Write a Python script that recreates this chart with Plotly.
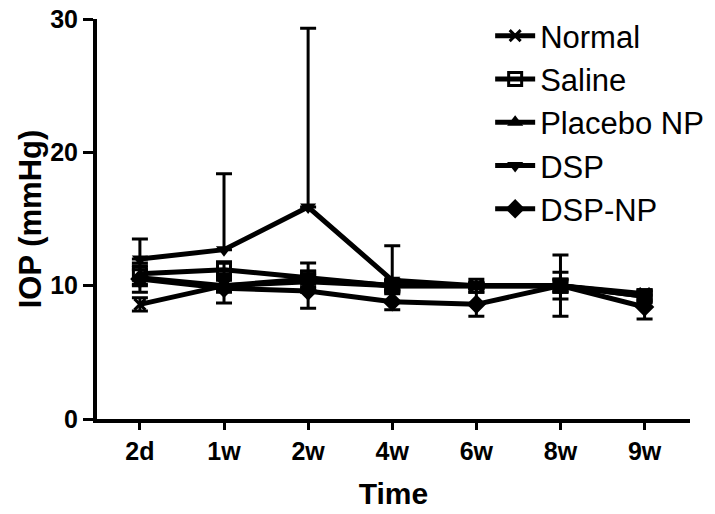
import plotly.graph_objects as go

times = ["2d", "1w", "2w", "4w", "6w", "8w", "9w"]
normal = [8.6, 10.0, 10.3, 10.0, 10.0, 10.0, 9.4]
normal_err = [0.5, 0.4, 0.5, 0.3, 0.2, 0.4, 0.3]
saline = [10.9, 11.2, 10.6, 10.0, 10.0, 10.0, 9.2]
saline_err = [0.8, 0.6, 1.1, 0.4, 0.2, 1.0, 0.4]
placebo = [10.6, 10.0, 10.5, 10.0, 10.0, 10.0, 9.2]
placebo_err = [0.6, 0.5, 0.6, 0.4, 0.2, 0.5, 0.3]
dsp = [12.0, 12.7, 15.9, 10.4, 10.0, 10.0, 9.3]
dsp_err_up = [1.5, 5.7, 13.4, 2.6, 0.0, 0.0, 0.0]
dspnp = [10.5, 9.8, 9.6, 8.8, 8.6, 10.0, 8.4]
dspnp_err = [1.0, 1.1, 1.3, 0.6, 0.9, 2.3, 0.9]

font = "Arial, Liberation Sans, sans-serif"
fig = go.Figure()

def add(name, y, symbol, err_up, err_dn, msize=11, mline=0):
    fig.add_trace(go.Scatter(
        x=times, y=y, name=name, mode="lines+markers",
        line=dict(color="black", width=5),
        marker=dict(symbol=symbol, size=msize, color="black",
                    line=dict(color="black", width=mline)),
        error_y=dict(type="data", symmetric=False, array=err_up, arrayminus=err_dn,
                     color="black", thickness=3, width=8),
    ))

add("Normal", normal, "x-thin", normal_err, normal_err, msize=11, mline=3)
add("Saline", saline, "square-open", saline_err, saline_err, msize=13, mline=3)
add("Placebo NP", placebo, "triangle-up", placebo_err, placebo_err, msize=14)
add("DSP", dsp, "triangle-down", dsp_err_up, [0]*7, msize=14)
add("DSP-NP", dspnp, "diamond", dspnp_err, dspnp_err, msize=15)

fig.update_layout(
    width=715, height=514,
    margin=dict(l=97, r=25, t=19, b=95, autoexpand=False),
    plot_bgcolor="white", paper_bgcolor="white",
    font=dict(family=font, color="black"),
    showlegend=True,
    legend=dict(x=0.663, y=1.025, xanchor="left", yanchor="top",
                font=dict(size=31, family=font), bgcolor="rgba(0,0,0,0)",
                itemwidth=40, tracegroupgap=0),
    xaxis=dict(
        range=[-0.51, 6.54], showline=True, linecolor="black", linewidth=4,
        ticks="outside", ticklen=7, tickwidth=3, tickcolor="black",
        tickfont=dict(size=25, family=font, weight="bold"),
        ticklabeloverflow="allow",
        title=dict(text="<b>Time</b>", font=dict(size=30, family=font), standoff=20),
        showgrid=False, zeroline=False,
    ),
    yaxis=dict(
        range=[0, 30], tickvals=[0, 10, 20, 30], showline=True, linecolor="black",
        linewidth=4, ticks="outside", ticklen=10, tickwidth=3, tickcolor="black",
        tickfont=dict(size=25, family=font, weight="bold"),
        ticklabeloverflow="allow",
        title=dict(text="<b>IOP (mmHg)</b>", font=dict(size=31, family=font), standoff=0),
        showgrid=False, zeroline=False,
    ),
)

fig.write_html("out.html", config={"displayModeBar": False},
               post_script="document.body.style.margin='0';")
